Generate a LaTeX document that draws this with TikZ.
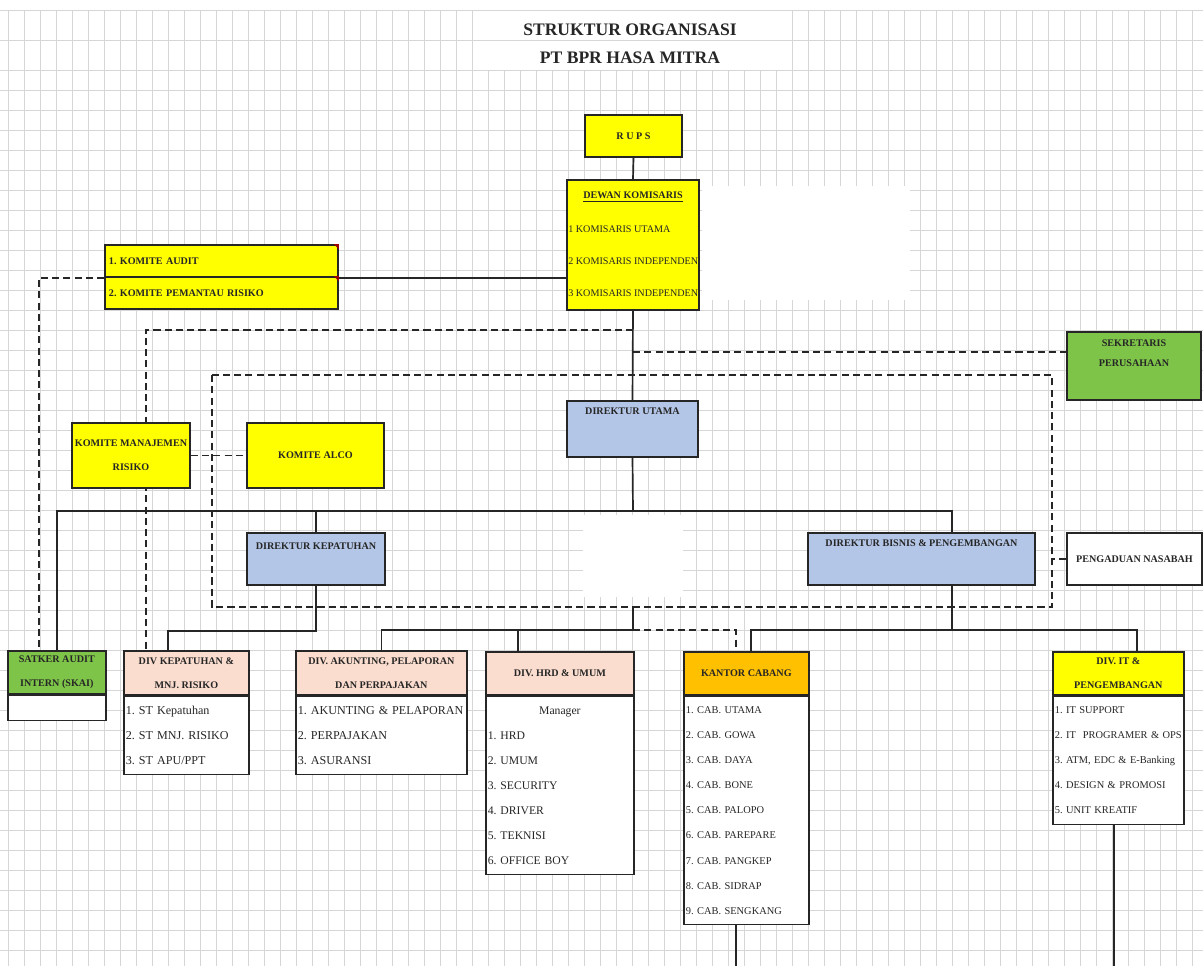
\documentclass[tikz,border=0pt]{standalone}
\usepackage{fontspec}
\setmainfont{Liberation Serif}
\usetikzlibrary{calc,backgrounds}
\definecolor{boxyellow}{RGB}{255,255,0}
\definecolor{boxblue}{RGB}{180,198,231}
\definecolor{boxgreen}{RGB}{126,196,72}
\definecolor{boxpeach}{RGB}{250,221,206}
\definecolor{boxgold}{RGB}{255,192,0}
\definecolor{gridgray}{RGB}{214,214,214}
\definecolor{inkdark}{RGB}{38,38,38}
\newcommand{\hdrfont}{\fontsize{7.2}{17}\selectfont\bfseries}
\newcommand{\komfont}{\fontsize{7.2}{9}\selectfont}
\newcommand{\itmfont}{\fontsize{8.6}{17.8}\selectfont}
\newcommand{\hrdfont}{\fontsize{8.3}{17.8}\selectfont}
\newcommand{\cabfont}{\fontsize{7.4}{17.8}\selectfont}
\tikzset{
  orgbox/.style={draw=inkdark,line width=1.2pt,inner sep=0pt,align=center,font=\hdrfont,text=inkdark},
  rowbox/.style={orgbox,fill=boxyellow,align=left,text width=5.625cm,inner xsep=0.1cm,minimum height=0.8cm},
  hdrbox/.style={orgbox,anchor=north west},
  listbox/.style={draw=inkdark,line width=1.2pt,fill=white,align=left,inner xsep=0.05cm,inner ysep=0pt,anchor=north west,text=inkdark},
  txt/.style={inner sep=0pt,font=\hdrfont,text=inkdark},
  titletext/.style={inner sep=0pt,font=\fontsize{12.5}{15}\selectfont\bfseries,text=inkdark},
  link/.style={draw=inkdark,line width=1.2pt},
  dlink/.style={draw=inkdark,line width=1.2pt,dash pattern=on 5pt off 3pt},
  gridline/.style={draw=gridgray,line width=0.5pt}
}

\begin{document}
\frenchspacing
\begin{tikzpicture}[x=0.025cm,y=-0.025cm]
\useasboundingbox (0,0) rectangle (1203,966);
\begin{scope}[on background layer]
\fill[white] (0,0) rectangle (1203,966);
\foreach \gx in {8,24,...,1200} \draw[gridline] (\gx,10) -- (\gx,966);
\fill[white] (478,11) rectangle (792,70);
\foreach \gy in {10,40,70,90,...,960} \draw[gridline] (0,\gy) -- (1203,\gy);
\fill[white] (702,186) rectangle (910,300);
\fill[white] (583,515) rectangle (683,597);
\end{scope}

% title
\node[titletext] (title1) at (630,30) {STRUKTUR ORGANISASI};
\node[titletext] (title2) at (630,58) {PT BPR HASA MITRA};

% top level
\node[orgbox,fill=boxyellow,minimum width=2.425cm,minimum height=1.05cm] (rups) at (633.5,136) {R U P S};
\node[orgbox,fill=boxyellow,minimum width=3.3cm,minimum height=3.25cm] (dewan) at (633,245) {};
\node[txt] (dewant) at (633,197) {\underline{DEWAN KOMISARIS}};
\node[txt,font=\komfont,anchor=west] (kom1) at (568,229) {1 KOMISARIS UTAMA};
\node[txt,font=\komfont,anchor=west] (kom2) at (568,261) {2 KOMISARIS INDEPENDEN};
\node[txt,font=\komfont,anchor=west] (kom3) at (568,293) {3 KOMISARIS INDEPENDEN};

\node[rowbox] (komaudit) at (221.5,261) {1. KOMITE AUDIT};
\node[rowbox] (kompem) at (221.5,293) {2. KOMITE PEMANTAU RISIKO};
\fill[red!60!black] (komaudit.north east) -- ++(-5,0) -- ++(5,5) -- cycle;
\fill[red!60!black] (kompem.north east) -- ++(-5,0) -- ++(5,5) -- cycle;

\node[orgbox,fill=boxgreen,minimum width=3.35cm,minimum height=1.7cm] (sek) at (1134,366) {};
\node[txt,font=\fontsize{7.2}{14.2}\selectfont\bfseries,align=center] (sekt) at (1134,353) {SEKRETARIS\\PERUSAHAAN};

\node[orgbox,fill=boxyellow,minimum width=2.95cm,minimum height=1.625cm] (kmr) at (131,455.5) {KOMITE MANAJEMEN\\RISIKO};
\node[orgbox,fill=boxyellow,minimum width=3.425cm,minimum height=1.625cm] (alco) at (315.5,455.5) {KOMITE ALCO};

% direksi
\node[orgbox,fill=boxblue,minimum width=3.275cm,minimum height=1.4cm] (dirut) at (632.5,429) {};
\node[txt] (dirutt) at ($(dirut.north)+(0,11)$) {DIREKTUR UTAMA};
\node[orgbox,fill=boxblue,minimum width=3.45cm,minimum height=1.3cm] (dirkep) at (316,559) {};
\node[txt] (dirkept) at ($(dirkep.north)+(0,14)$) {DIREKTUR KEPATUHAN};
\node[orgbox,fill=boxblue,minimum width=5.675cm,minimum height=1.3cm] (dirbis) at (921.5,559) {};
\node[txt] (dirbist) at ($(dirbis.north)+(0,11)$) {DIREKTUR BISNIS \& PENGEMBANGAN};
\node[orgbox,fill=white,minimum width=3.375cm,minimum height=1.3cm] (peng) at (1134.5,559) {PENGADUAN NASABAH};

% divisi
\node[hdrbox,fill=boxgreen,minimum width=2.45cm,minimum height=1.075cm] (satker) at (7,650) {SATKER AUDIT\\INTERN (SKAI)};
\node[listbox,text width=2.35cm,minimum height=0.625cm] (satkerlist) at (satker.south west) {};

\node[hdrbox,fill=boxpeach,minimum width=3.125cm,minimum height=1.1cm] (divkep) at (123,650) {DIV KEPATUHAN \&\\MNJ. RISIKO};
\node[listbox,font=\itmfont,text width=3.025cm,minimum height=1.95cm] (divkeplist) at (divkep.south west)
  {1. ST Kepatuhan\\2. ST MNJ. RISIKO\\3. ST APU/PPT};

\node[hdrbox,fill=boxpeach,minimum width=4.275cm,minimum height=1.1cm] (divakun) at (295,650) {DIV. AKUNTING, PELAPORAN\\DAN PERPAJAKAN};
\node[listbox,font=\itmfont,text width=4.175cm,minimum height=1.95cm] (divakunlist) at (divakun.south west)
  {1. AKUNTING \& PELAPORAN\\2. PERPAJAKAN\\3. ASURANSI};

\node[hdrbox,fill=boxpeach,minimum width=3.7cm,minimum height=1.075cm] (divhrd) at (485,651) {DIV. HRD \& UMUM};
\node[listbox,font=\hrdfont,text width=3.6cm,minimum height=4.45cm] (divhrdlist) at (divhrd.south west)
  {\noindent\makebox[\hsize]{Manager}\\1. HRD\\2. UMUM\\3. SECURITY\\4. DRIVER\\5. TEKNISI\\6. OFFICE BOY};

\node[hdrbox,fill=boxgold,minimum width=3.125cm,minimum height=1.075cm] (cabang) at (683,651) {KANTOR CABANG};
\node[listbox,font=\cabfont,text width=3.025cm,minimum height=5.7cm] (cabanglist) at (cabang.south west)
  {1. CAB. UTAMA\\2. CAB. GOWA\\3. CAB. DAYA\\4. CAB. BONE\\5. CAB. PALOPO\\6. CAB. PAREPARE\\7. CAB. PANGKEP\\8. CAB. SIDRAP\\9. CAB. SENGKANG};

\node[hdrbox,fill=boxyellow,minimum width=3.275cm,minimum height=1.075cm] (divit) at (1052,651) {DIV. IT \&\\PENGEMBANGAN};
\node[listbox,font=\cabfont,text width=3.175cm,minimum height=3.2cm] (divitlist) at (divit.south west)
  {1. IT SUPPORT\\2. IT\ \ PROGRAMER \& OPS\\3. ATM, EDC \& E-Banking\\4. DESIGN \& PROMOSI\\5. UNIT KREATIF};

% connectors
\begin{scope}[on background layer]
\draw[link] (rups.south) -- (dewan.north);
\draw[link] (komaudit.south east) -- (komaudit.south east -| dewan.west);
\draw[dlink] (komaudit.south west) -| ($(satker.north)+(-18,0)$);
\draw[link] (dewan.south) -- (dirut.north);
\coordinate (komj) at (633,330);
\coordinate (sekj) at (633,352);
\draw[dlink] (komj) -| ($(divkep.north)+(-40.5,0)$);
\draw[dlink] (sekj) -- (sekj -| sek.west);
\draw[dlink] (212,375) rectangle (1052,607);
\draw[dlink] (peng.west) -- ++(-15,0);
\draw[dlink] (kmr.east) -- (alco.west);
\coordinate (dirbus) at (633,511);
\coordinate (bisj) at ($(dirbis.north)+(30.5,0)$);
\draw[link] (dirut.south) -- (dirbus);
\draw[link] (satker.north) |- (bisj |- dirbus) -- (bisj);
\draw[link] (dirkep.north) -- (dirkep.north |- dirbus);
\draw[link] (dirkep.south) -- ++(0,45) -| ($(divkep.north)+(-18.5,0)$);
\coordinate (opsj) at (633,607);
\coordinate (divbus) at (633,630);
\draw[link] (opsj) -- (divbus) -| (divakun.north);
\draw[link] ($(divhrd.north)+(-42,0)$) -- ++(0,-21);
\draw[dlink] (divbus) -| ($(cabang.north)+(-10.5,0)$);
\draw[link] ($(dirbis.south)+(30.5,0)$) -- ++(0,45);
\draw[link] ($(cabang.north)+(4.5,0)$) |- ($(divit.north)+(18.5,-21)$) -- ($(divit.north)+(18.5,0)$);
\draw[link] ($(cabanglist.south)+(-10.5,0)$) -- ++(0,44);
\draw[link] ($(divitlist.south)+(-4.5,0)$) -- ++(0,144);
\end{scope}
\end{tikzpicture}
\end{document}
